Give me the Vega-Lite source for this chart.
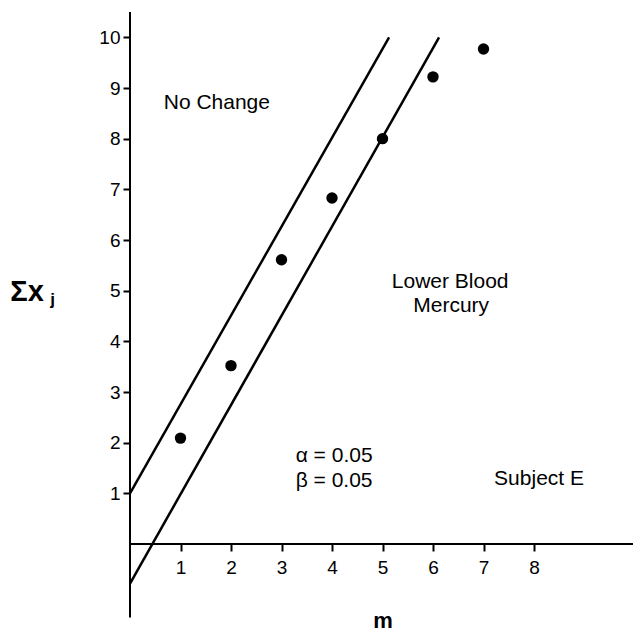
{
  "$schema": "https://vega.github.io/schema/vega-lite/v6.json",
  "width": 505,
  "height": 532,
  "autosize": {"type": "none"},
  "padding": {"left": 130, "top": 12, "right": 0, "bottom": 86},
  "background": "white",
  "config": {
    "view": {"stroke": null},
    "font": "Liberation Sans",
    "axis": {
      "grid": false,
      "domain": false,
      "tickColor": "black",
      "tickWidth": 2,
      "tickSize": 7,
      "labelColor": "black",
      "labelFont": "Liberation Sans",
      "labelFontSize": 19,
      "titleColor": "black",
      "titleFont": "Liberation Sans"
    }
  },
  "datasets": {
    "points": [
      {"m": 1, "sum": 2.09},
      {"m": 2, "sum": 3.52},
      {"m": 3, "sum": 5.61},
      {"m": 4, "sum": 6.83},
      {"m": 5, "sum": 8.0},
      {"m": 6, "sum": 9.22},
      {"m": 7, "sum": 9.77}
    ],
    "lines": [
      {"line": "upper", "m": 0, "sum": 1.0},
      {"line": "upper", "m": 5.13, "sum": 10.0},
      {"line": "lower", "m": 0, "sum": -0.78},
      {"line": "lower", "m": 6.12, "sum": 10.0}
    ],
    "yaxis": [{"m": 0, "from": -1.45, "to": 10.5}],
    "xaxis": [{"sum": 0, "from": 0, "to": 10}],
    "centered": [
      {"label": "No Change", "m": 1.72, "sum": 8.7},
      {"label": "Lower Blood", "m": 6.34, "sum": 5.18},
      {"label": "Mercury", "m": 6.36, "sum": 4.7},
      {"label": "Subject E", "m": 8.1, "sum": 1.28}
    ],
    "leftside": [
      {"label": "α = 0.05", "m": 3.28, "sum": 1.74},
      {"label": "β = 0.05", "m": 3.28, "sum": 1.25}
    ],
    "ytitle": [{"label": "Σx", "m": -2.37, "sum": 4.8}],
    "ysub": [{"label": "j", "m": -1.58, "sum": 4.72}]
  },
  "layer": [
    {
      "data": {"name": "yaxis"},
      "mark": {"type": "rule", "color": "black", "strokeWidth": 2},
      "encoding": {
        "x": {"field": "m", "type": "quantitative", "scale": {"domain": [0, 10], "nice": false, "zero": false},
              "axis": {"values": [1, 2, 3, 4, 5, 6, 7, 8], "title": "m", "titleFontSize": 22, "titleFontWeight": "bold", "titlePadding": 33, "labelPadding": 7}},
        "y": {"field": "from", "type": "quantitative", "scale": {"domain": [0, 10.5], "nice": false, "zero": false},
              "axis": {"values": [1, 2, 3, 4, 5, 6, 7, 8, 9, 10], "title": null, "labelPadding": 3}},
        "y2": {"field": "to"}
      }
    },
    {
      "data": {"name": "xaxis"},
      "mark": {"type": "rule", "color": "black", "strokeWidth": 2},
      "encoding": {
        "x": {"field": "from", "type": "quantitative"},
        "x2": {"field": "to"},
        "y": {"field": "sum", "type": "quantitative"}
      }
    },
    {
      "data": {"name": "lines"},
      "mark": {"type": "line", "color": "black", "strokeWidth": 2.5},
      "encoding": {
        "x": {"field": "m", "type": "quantitative"},
        "y": {"field": "sum", "type": "quantitative"},
        "detail": {"field": "line"}
      }
    },
    {
      "data": {"name": "points"},
      "mark": {"type": "circle", "color": "black", "opacity": 1, "size": 130},
      "encoding": {
        "x": {"field": "m", "type": "quantitative"},
        "y": {"field": "sum", "type": "quantitative"}
      }
    },
    {
      "data": {"name": "centered"},
      "mark": {"type": "text", "align": "center", "baseline": "middle", "fontSize": 21, "color": "black", "font": "Liberation Sans"},
      "encoding": {
        "x": {"field": "m", "type": "quantitative"},
        "y": {"field": "sum", "type": "quantitative"},
        "text": {"field": "label"}
      }
    },
    {
      "data": {"name": "leftside"},
      "mark": {"type": "text", "align": "left", "baseline": "middle", "fontSize": 21, "color": "black", "font": "Liberation Sans"},
      "encoding": {
        "x": {"field": "m", "type": "quantitative"},
        "y": {"field": "sum", "type": "quantitative"},
        "text": {"field": "label"}
      }
    },
    {
      "data": {"name": "ytitle"},
      "mark": {"type": "text", "align": "left", "baseline": "alphabetic", "fontSize": 29, "fontWeight": "bold", "color": "black", "font": "Liberation Sans"},
      "encoding": {
        "x": {"field": "m", "type": "quantitative"},
        "y": {"field": "sum", "type": "quantitative"},
        "text": {"field": "label"}
      }
    },
    {
      "data": {"name": "ysub"},
      "mark": {"type": "text", "align": "left", "baseline": "alphabetic", "fontSize": 17, "fontWeight": "bold", "color": "black", "font": "Liberation Sans"},
      "encoding": {
        "x": {"field": "m", "type": "quantitative"},
        "y": {"field": "sum", "type": "quantitative"},
        "text": {"field": "label"}
      }
    }
  ]
}
